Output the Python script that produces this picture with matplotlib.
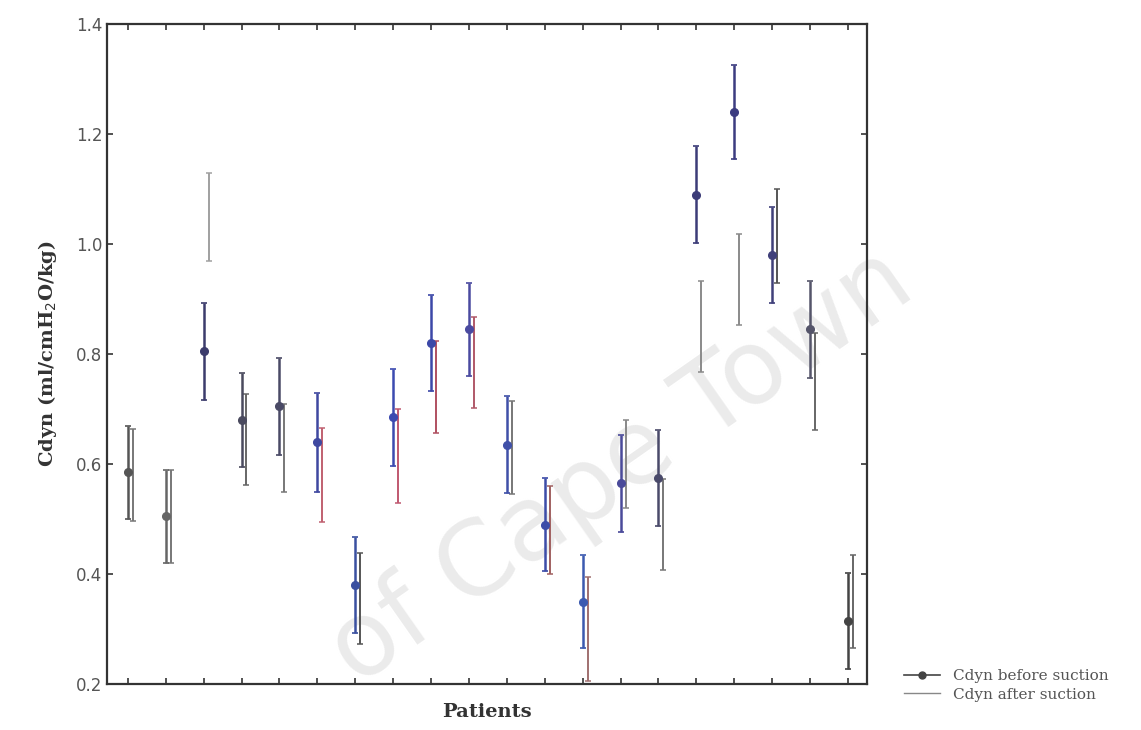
import matplotlib.pyplot as plt
from matplotlib.lines import Line2D

# Cdyn per patient
patients = list(range(1, 21))
before = [0.585, 0.505, 0.805, 0.68, 0.705, 0.64, 0.38, 0.685, 0.82, 0.845,
          0.635, 0.49, 0.35, 0.565, 0.575, 1.09, 1.24, 0.98, 0.845, 0.315]
before_err = [0.085, 0.085, 0.088, 0.085, 0.088, 0.09, 0.087, 0.088, 0.088, 0.085,
              0.088, 0.085, 0.085, 0.088, 0.087, 0.088, 0.085, 0.088, 0.088, 0.087]
after = [0.58, 0.505, 1.05, 0.645, 0.63, 0.58, 0.355, 0.615, 0.74, 0.785,
         0.63, 0.48, 0.3, 0.6, 0.49, 0.85, 0.935, 1.015, 0.75, 0.35]
after_err = [0.083, 0.085, 0.08, 0.083, 0.08, 0.085, 0.083, 0.085, 0.083, 0.083,
             0.085, 0.08, 0.095, 0.08, 0.083, 0.083, 0.083, 0.085, 0.088, 0.085]

# colours as they look in the scan
c_before = ['#555555', '#666666', '#3c3c6c', '#4a4a5e', '#4a4a66', '#3f48a0',
            '#3a50a0', '#3c4ab0', '#3c48a8', '#4a4aa0', '#4050a8', '#3c4ca8',
            '#3c5ab0', '#4a4a9a', '#4a4a6a', '#3c3c78', '#3c3c80', '#40407a',
            '#55556a', '#444444']
c_after = ['#777777', '#777777', '#a0a0a0', '#666666', '#777777', '#c06070',
           '#555555', '#c05870', '#b05060', '#b05868', '#777777', '#a06060',
           '#a07070', '#888888', '#777777', '#8a8a8a', '#8a8a8a', '#555555',
           '#666666', '#666666']

fig = plt.figure(figsize=(11.41, 7.3), dpi=100)
ax = fig.add_axes([0.0938, 0.063, 0.666, 0.904])

# faint watermark from the scanned thesis page
ax.text(0.545, 0.36, 'of Cape Town', transform=fig.transFigure, fontsize=74,
        color='#ebebeb', rotation=35, ha='center', va='center',
        family='DejaVu Sans', zorder=0.5, clip_on=False)

for i, p in enumerate(patients):
    ax.errorbar(p + 0.13, after[i], yerr=after_err[i], fmt='none',
                ecolor=c_after[i], elinewidth=1.4, capsize=2.5, capthick=1.1, zorder=2)
    ax.errorbar(p, before[i], yerr=before_err[i], fmt='o', color=c_before[i],
                ms=5.5, elinewidth=1.8, capsize=2.5, capthick=1.2, zorder=3)

ax.set_xlim(0.45, 20.5)
ax.set_ylim(0.2, 1.4)
ax.set_xticks(patients)
ax.set_xticklabels([])
ax.set_yticks([0.2, 0.4, 0.6, 0.8, 1.0, 1.2, 1.4])
ax.set_yticklabels(['0.2', '0.4', '0.6', '0.8', '1.0', '1.2', '1.4'],
                   color='#555555', fontsize=12)
ax.tick_params(direction='in', length=4, top=True, right=True, width=1.2, color='#333333')
for s in ax.spines.values():
    s.set_linewidth(1.6)
    s.set_color('#333333')

ax.set_ylabel('Cdyn (ml/cmH$_2$O/kg)', family='serif', fontweight='bold',
              fontsize=14, color='#333333', labelpad=12)
ax.set_xlabel('Patients', family='serif', fontweight='bold', fontsize=14,
              color='#333333', labelpad=10)

# legend keys: bar with marker, as in the scan
h1 = (Line2D([], [], color='#444444', lw=1.2),
      Line2D([], [], marker='o', ls='none', color='#444444', ms=5))
h2 = Line2D([], [], color='#888888', lw=1.0)
fig.legend([h1, h2], ['Cdyn before suction', 'Cdyn after suction'],
           loc='lower left', bbox_to_anchor=(0.78, 0.02), frameon=False,
           prop={'family': 'serif', 'size': 11}, labelcolor='#555555',
           handlelength=2.4, labelspacing=0.3)

fig.savefig('out.png', dpi=100)
